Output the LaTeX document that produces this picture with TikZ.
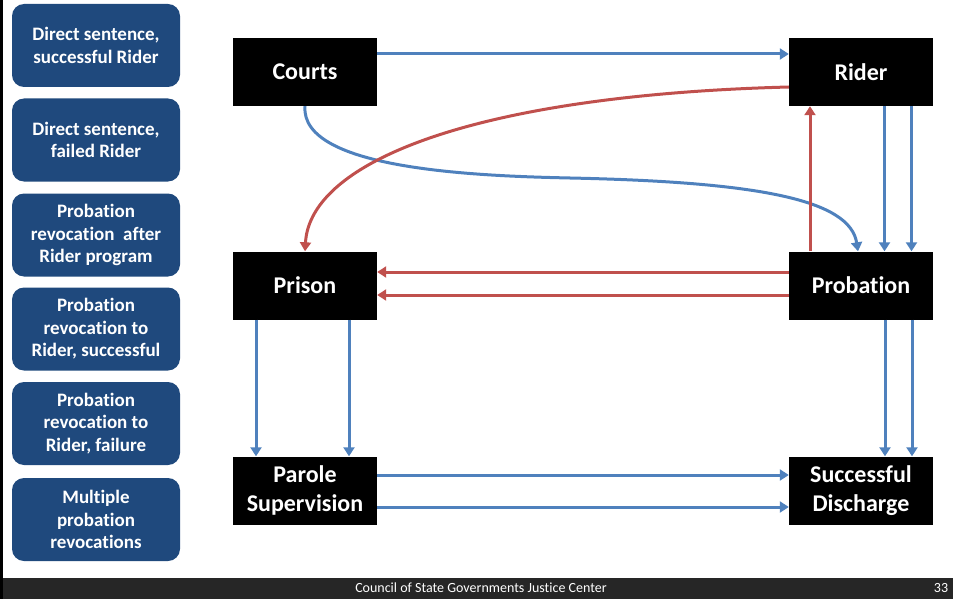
\documentclass[tikz,border=0pt]{standalone}
\usepackage{fontspec}
\setmainfont[Ligatures=NoCommon]{Carlito}
\usetikzlibrary{arrows.meta,calc}
\definecolor{btnblue}{HTML}{1F497D}
\definecolor{flowblue}{HTML}{4F81BD}
\definecolor{flowred}{HTML}{C0504D}
\definecolor{footgray}{HTML}{262626}
\tikzset{
  stage/.style={fill=black, text=white, font=\fontsize{24}{28.5}\selectfont\bfseries,
    minimum width=144pt, minimum height=68pt, inner sep=0pt, align=center},
  pathbtn/.style={fill=btnblue, text=white, rounded corners=12pt,
    font=\fontsize{19}{22.5}\selectfont\bfseries,
    minimum width=168pt, minimum height=83pt, inner sep=0pt, align=center},
  flowtip/.tip={Triangle[width=11pt,length=9pt]},
  blueflow/.style={draw=flowblue, line width=3pt, -flowtip},
  redflow/.style={draw=flowred, line width=3pt, -flowtip},
}
\begin{document}
\begin{tikzpicture}[x=1pt,y=-1pt]
\useasboundingbox (0,0) rectangle (953,599);

% frame line and footer bar
\draw[line width=3pt] (1.5,0) -- (1.5,599);
\fill[footgray] (3,578) rectangle (953,599);
\node[text=white, font=\fontsize{14}{16}\selectfont] (footer) at (481,587.5) {Council of State Governments Justice Center};
\node[text=white, font=\fontsize{14}{16}\selectfont] (pagenum) at (941,588) {33};

% pathway legend buttons
\node[pathbtn] (b1) at (96,45.5)  {Direct sentence,\\successful Rider};
\node[pathbtn] (b2) at (96,140)   {Direct sentence,\\failed Rider};
\node[pathbtn] (b3) at (96,235)   {Probation\\revocation~ after\\Rider program};
\node[pathbtn] (b4) at (96,329)   {Probation\\revocation to\\Rider, successful};
\node[pathbtn] (b5) at (96,423.5) {Probation\\revocation to\\Rider, failure};
\node[pathbtn] (b6) at (96,519.5) {Multiple\\probation\\revocations};

% stages
\node[stage] (courts)    at (305,72)    {Courts};
\node[stage] (rider)     at (861,72)    {Rider};
\node[stage] (prison)    at (305,285.5) {Prison};
\node[stage] (probation) at (861,285.5) {Probation};
\node[stage] (parole)    at (305,490.5) {Parole\\Supervision};
\node[stage] (discharge) at (861,490.5) {Successful\\Discharge};

% flows
\draw[blueflow] ([yshift=18pt]courts.east) -- ([yshift=18pt]rider.west);
\draw[blueflow] (courts.south) .. controls (300,170) and (480,176) .. (570,178)
  .. controls (760,182) and (850,200) .. ([xshift=-3pt]probation.north);
\draw[redflow] ([yshift=-15pt]rider.west) .. controls (480,95) and (310,160) .. (prison.north);
\draw[redflow] ([xshift=-51pt]probation.north) -- ([xshift=-51pt]rider.south);
\draw[blueflow] ([xshift=23.5pt]rider.south) -- ([xshift=23.5pt]probation.north);
\draw[blueflow] ([xshift=50.5pt]rider.south) -- ([xshift=50.5pt]probation.north);
\draw[redflow] ([yshift=13.5pt]probation.west) -- ([yshift=13.5pt]prison.east);
\draw[redflow] ([yshift=-9.5pt]probation.west) -- ([yshift=-9.5pt]prison.east);
\draw[blueflow] ([xshift=-49pt]prison.south) -- ([xshift=-49pt]parole.north);
\draw[blueflow] ([xshift=44pt]prison.south) -- ([xshift=44pt]parole.north);
\draw[blueflow] ([xshift=24pt]probation.south) -- ([xshift=24pt]discharge.north);
\draw[blueflow] ([xshift=51pt]probation.south) -- ([xshift=51pt]discharge.north);
\draw[blueflow] ([yshift=15.5pt]parole.east) -- ([yshift=15.5pt]discharge.west);
\draw[blueflow] ([yshift=-16.5pt]parole.east) -- ([yshift=-16.5pt]discharge.west);
\end{tikzpicture}
\end{document}
